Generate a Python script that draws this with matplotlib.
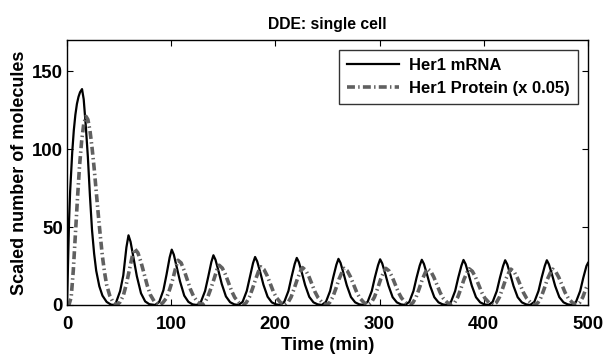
import matplotlib
matplotlib.use("Agg")
import matplotlib.pyplot as plt

plt.rcParams["font.family"] = ["Liberation Sans", "DejaVu Sans"]
plt.rcParams["font.weight"] = "bold"

# Data
t_mrna = [0, 1, 2, 3, 5, 6.5, 8, 9.5, 11, 12.5, 14.4, 16, 18, 20, 22, 24, 26, 28, 31, 34, 38, 42, 45,
          47, 51, 54, 57, 59, 61, 64, 67, 71, 75, 79, 84.5,
          88.5, 92.5, 95.5, 98.5, 100.5, 102.5, 105.5, 108.5, 112.5, 116.5, 120.5, 124.5,
          128.5, 132.5, 135.5, 138.5, 140.5, 142.5, 145.5, 148.5, 152.5, 156.5, 160.5, 164.5,
          168.5, 172.5, 175.5, 178.5, 180.5, 182.5, 185.5, 188.5, 192.5, 196.5, 200.5, 204.5,
          208.5, 212.5, 215.5, 218.5, 220.5, 222.5, 225.5, 228.5, 232.5, 236.5, 240.5, 244.5,
          248.5, 252.5, 255.5, 258.5, 260.5, 262.5, 265.5, 268.5, 272.5, 276.5, 280.5, 284.5,
          288.5, 292.5, 295.5, 298.5, 300.5, 302.5, 305.5, 308.5, 312.5, 316.5, 320.5, 324.5,
          328.5, 332.5, 335.5, 338.5, 340.5, 342.5, 345.5, 348.5, 352.5, 356.5, 360.5, 364.5,
          368.5, 372.5, 375.5, 378.5, 380.5, 382.5, 385.5, 388.5, 392.5, 396.5, 400.5, 404.5,
          408.5, 412.5, 415.5, 418.5, 420.5, 422.5, 425.5, 428.5, 432.5, 436.5, 440.5, 444.5,
          448.5, 452.5, 455.5, 458.5, 460.5, 462.5, 465.5, 468.5, 472.5, 476.5, 480.5, 484.5,
          488.5, 492.5, 495.5, 498.5, 500]
mrna = [0, 28, 55, 73, 98, 112, 122, 129, 133.5, 136.5, 138.5, 132, 115, 95, 70, 48, 33, 22, 12, 6, 2, 0.3, 0,
        1.5, 9, 19, 37, 44.7, 40.5, 29.5, 18.5, 7.5, 2.3, 0.5, 0,
        2, 9.5, 19.5, 30.5, 35.5, 32.3, 23.8, 15, 6, 2, 0.4, 0,
        2, 9, 18, 27.5, 31.9, 29, 21.5, 13.5, 5.5, 1.8, 0.4, 0,
        2, 9, 18, 26.8, 30.8, 28, 20.8, 13, 5.3, 1.7, 0.4, 0,
        2, 9, 18, 26.3, 30.2, 27.5, 20.4, 12.8, 5.2, 1.7, 0.4, 0,
        2, 9, 17.8, 25.8, 29.6, 27, 20, 12.6, 5.1, 1.7, 0.4, 0,
        2, 9, 17.8, 25.5, 29.3, 26.7, 19.8, 12.5, 5, 1.7, 0.4, 0,
        2, 9, 17.6, 25.3, 29.0, 26.4, 19.6, 12.3, 5, 1.7, 0.4, 0,
        2, 9, 17.6, 25.2, 28.9, 26.3, 19.5, 12.3, 5, 1.7, 0.4, 0,
        2, 9, 17.5, 25, 28.7, 26.1, 19.4, 12.2, 5, 1.7, 0.4, 0,
        2, 9, 17.5, 25, 28.7, 26.1, 19.4, 12.2, 5, 1.7, 0.4, 0,
        2, 9, 17.5, 25, 27]

t_prot = [0, 2, 4, 6, 8, 10, 12, 14, 16, 18.2, 20, 22, 24, 26, 28, 30, 32, 34, 36, 38, 41, 44, 48,
          51, 54, 57, 60, 63, 65, 68, 71, 74, 77, 80, 84, 89,
          92, 95.5, 98.5, 101.5, 104.5, 106.5, 109.5, 112.5, 115.5, 118.5, 121.5, 125.5, 129.5,
          132, 135, 138, 141, 144, 146, 149, 152, 155, 158, 161, 165, 169,
          172, 175, 178, 181, 184, 186, 189, 192, 195, 198, 201, 205, 209,
          212, 215, 218, 221, 224, 226, 229, 232, 235, 238, 241, 245, 249,
          252, 255, 258, 261, 264, 266, 269, 272, 275, 278, 281, 285, 289,
          292, 295, 298, 301, 304, 306, 309, 312, 315, 318, 321, 325, 329,
          332, 335, 338, 341, 344, 346, 349, 352, 355, 358, 361, 365, 369,
          372, 375, 378, 381, 384, 386, 389, 392, 395, 398, 401, 405, 409,
          412, 415, 418, 421, 424, 426, 429, 432, 435, 438, 441, 445, 449,
          452, 455, 458, 461, 464, 466, 469, 472, 475, 478, 481, 485, 489,
          492, 495, 498, 500]
prot = [0, 0.5, 5, 22, 45, 68, 89, 105, 116, 121, 119, 112, 101, 88, 73, 58, 44, 31, 21, 13, 6, 2, 0,
        2, 6, 13.5, 23, 32.5, 36, 33.5, 27.5, 20, 12.5, 6.5, 2, 0,
        1.5, 4.5, 10, 16.5, 24.5, 28.7, 27, 22, 16, 10, 5.5, 1.8, 0,
        1.5, 5, 10.5, 16.5, 22.9, 25.5, 23.7, 19.6, 14.3, 8.9, 4.8, 1.5, 0,
        1.5, 5, 10.5, 16.5, 22, 24.5, 22.8, 18.9, 13.7, 8.6, 4.7, 1.5, 0,
        1.5, 5, 10.5, 16.5, 21.6, 24, 22.3, 18.5, 13.4, 8.4, 4.6, 1.5, 0,
        1.5, 5, 10.5, 16.5, 21.2, 23.5, 21.9, 18.1, 13.2, 8.2, 4.5, 1.5, 0,
        1.5, 5, 10.5, 16.5, 21.2, 23.5, 21.9, 18.1, 13.2, 8.2, 4.5, 1.5, 0,
        1.5, 5, 10.5, 16.5, 21, 23.3, 21.7, 17.9, 13, 8.1, 4.4, 1.5, 0,
        1.5, 5, 10.5, 16.5, 21, 23.2, 21.6, 17.9, 13, 8.1, 4.4, 1.5, 0,
        1.5, 5, 10.5, 16.5, 20.8, 23, 21.4, 17.7, 12.9, 8, 4.4, 1.5, 0,
        1.5, 5, 10.5, 16.5, 20.8, 23, 21.4, 17.7, 12.9, 8, 4.4, 1.5, 0,
        1.5, 5, 10.5, 13]

x_ticks = [0, 100, 200, 300, 400, 500]
y_ticks = [0, 50, 100, 150]

# Plot
fig = plt.figure(figsize=(6.06, 3.6), dpi=100)
ax = fig.add_axes([0.1106, 0.1528, 0.8597, 0.7361])

ax.plot(t_mrna, mrna, color="black", lw=1.6, label="Her1 mRNA")
ax.plot(t_prot, prot, color="#606060", lw=2.6, linestyle=(0, (2.2, 0.9, 0.4, 0.9)),
        label="Her1 Protein (x 0.05)")

ax.set_xlim(0, 500)
ax.set_ylim(0, 170)
ax.set_xticks(x_ticks)
ax.set_yticks(y_ticks)
ax.tick_params(direction="in", top=True, right=True, length=4, width=0.8,
               labelsize=13.4)
ax.tick_params(axis="x", pad=8)
ax.tick_params(axis="y", pad=3)
for lab in ax.get_xticklabels() + ax.get_yticklabels():
    lab.set_fontweight("bold")
for sp in ax.spines.values():
    sp.set_linewidth(1.0)

ax.set_title("DDE: single cell", fontsize=11.3, fontweight="bold", pad=8)
ax.set_xlabel("Time (min)", fontsize=13.4, fontweight="bold", labelpad=3)
ax.set_ylabel("Scaled number of molecules", fontsize=13, fontweight="bold", labelpad=3)

leg = ax.legend(loc="upper right", fontsize=12, frameon=True, fancybox=False,
                handlelength=3.1, borderaxespad=0.6, borderpad=0.5,
                labelspacing=0.45, handletextpad=0.6)
leg.get_frame().set_edgecolor("black")
leg.get_frame().set_linewidth(1.0)
for txt in leg.get_texts():
    txt.set_fontweight("bold")

plt.savefig("out.png", dpi=100)
